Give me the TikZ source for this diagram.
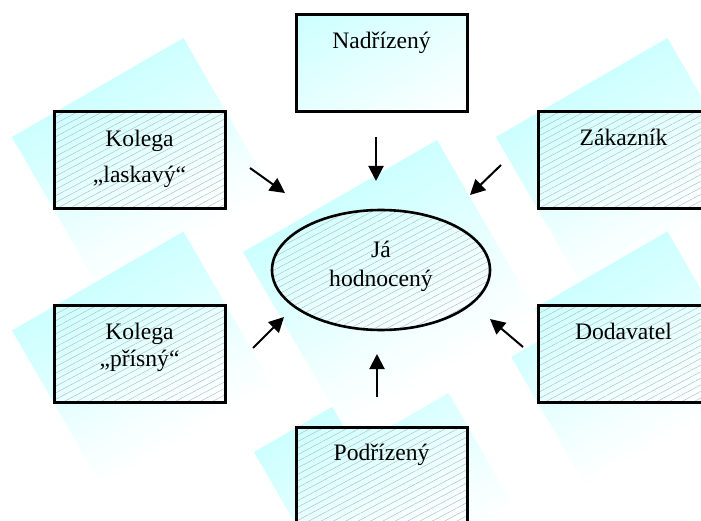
\documentclass[tikz,border=0pt]{standalone}
\usepackage{fontspec}
\setmainfont{Liberation Serif}
\usetikzlibrary{arrows.meta,patterns.meta,shadings,shapes.geometric}

\definecolor{aqua}{HTML}{CCFFFF}
\definecolor{aquamid}{HTML}{E6FFFF}
\definecolor{hatchgray}{HTML}{B4B4B4}

\tikzset{
  boxfill/.style={preaction={shade, upper left=aqua, upper right=aquamid,
                             lower left=aquamid, lower right=white}},
  hatched/.style={pattern={Lines[angle=28,distance=5.8pt,line width=0.4pt]},
                  pattern color=hatchgray},
  rolebox/.style={draw, line width=3pt, minimum width=171pt,
                  minimum height=97pt, inner sep=0pt, boxfill},
  selfnode/.style={ellipse, draw, line width=2.6pt, minimum width=218pt,
                   minimum height=120pt, inner sep=0pt, boxfill, hatched},
  lbl/.style={align=center, anchor=base, inner sep=0pt},
  push/.style={line width=2pt, -{Triangle[length=15pt,width=15pt]}}
}

% a square of half side #3 centred at (#1,#2), turned by 30 degrees;
% built from thin bands that fade from aqua on its upper side to white
\newcommand{\tiltedsquare}[3]{%
  \begin{scope}[shift={(#1,#2)}, rotate=30]
    \foreach \k in {0,...,29}{
      \pgfmathsetmacro\pct{max(0,100*(1-(\k+0.5)/27))}
      \fill[aqua!\pct!white] (-#3,{-#3+2*#3*\k/30})
        rectangle (#3,{-#3+2*#3*(\k+1)/30+0.8});
    }
  \end{scope}}

\begin{document}
\begin{tikzpicture}[x=1pt,y=-1pt,
    every node/.style={font=\fontsize{23.6}{29}\selectfont}]
  \useasboundingbox (0,0) rectangle (701,521);
  \clip (0,0) rectangle (701,521);

  % tilted backdrops
  \tiltedsquare{147.2}{173.2}{99}
  \tiltedsquare{631.2}{173.2}{99}
  \tiltedsquare{147.2}{366.7}{99}
  \tiltedsquare{631.2}{366.7}{99}
  \tiltedsquare{389.2}{488.2}{99}
  \tiltedsquare{396}{293}{112}

  % role boxes
  \node[rolebox] (nad) at (381.5,63.5) {};
  \node[rolebox, hatched] (kol1) at (139.5,160.5) {};
  \node[rolebox, hatched] (zak) at (623.5,160.5) {};
  \node[rolebox, hatched] (kol2) at (139.5,354) {};
  \node[rolebox, hatched] (dod) at (623.5,354) {};
  \node[rolebox, hatched] (pod) at (381.5,475.5) {};
  \node[selfnode] (ja) at (381,270) {};

  % labels (anchored on the baseline of their last line)
  \node[lbl] (tnad) at (381.5,49) {Nadřízený};
  \node[lbl, font=\fontsize{23.6}{36}\selectfont] (tkol1) at (139.5,182.5) {Kolega\\„laskavý“};
  \node[lbl] (tzak) at (623.5,146) {Zákazník};
  \node[lbl, font=\fontsize{23.6}{27}\selectfont] (tkol2) at (139.5,366) {Kolega\\„přísný“};
  \node[lbl] (tdod) at (623.5,339) {Dodavatel};
  \node[lbl] (tpod) at (381.5,460) {Podřízený};
  \node[lbl] (tja) at (381,287) {Já\\hodnocený};

  % arrow ends
  \coordinate (s1) at (376,137);  \coordinate (e1) at (376,181);
  \coordinate (s2) at (250,168);  \coordinate (e2) at (285,193);
  \coordinate (s3) at (501,165);  \coordinate (e3) at (470,195);
  \coordinate (s4) at (253,348);  \coordinate (e4) at (284,317);
  \coordinate (s5) at (523,347);  \coordinate (e5) at (490,319);
  \coordinate (s6) at (377,397);  \coordinate (e6) at (377,354);

  \draw[push] (s1) -- (e1);
  \draw[push] (s2) -- (e2);
  \draw[push] (s3) -- (e3);
  \draw[push] (s4) -- (e4);
  \draw[push] (s5) -- (e5);
  \draw[push] (s6) -- (e6);
\end{tikzpicture}
\end{document}
